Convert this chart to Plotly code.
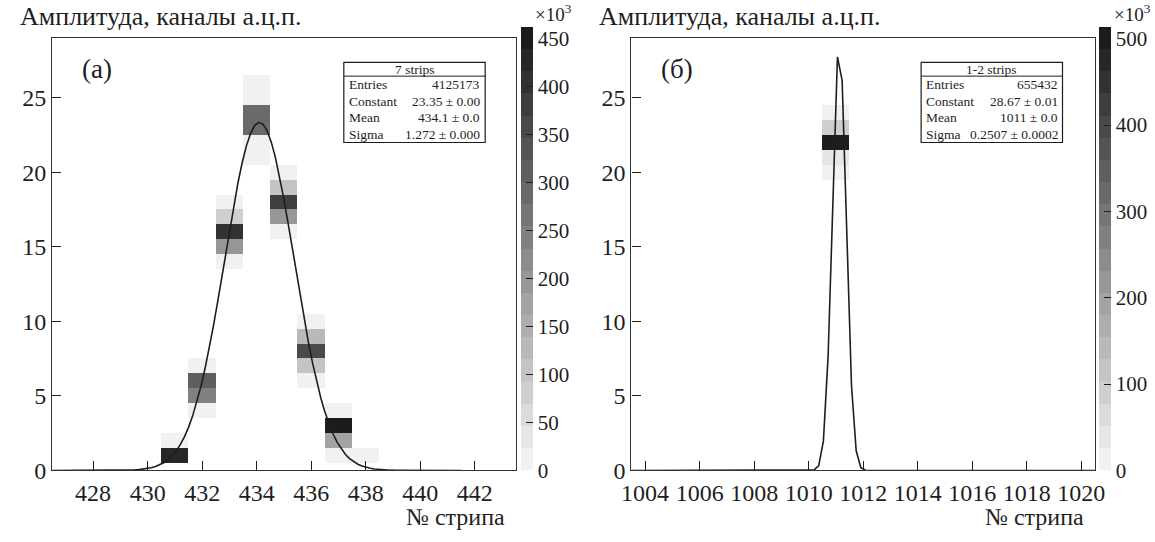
import numpy as np
import plotly.graph_objects as go

W, H = 1155, 542
FONT = "Liberation Serif, Times New Roman, serif"
INK = "#1e1e1e"

# ---------------- panel (а): 7-strip clusters ----------------
strips_a = [431, 431,
            432, 432, 432, 432,
            433, 433, 433, 433, 433,
            434, 434, 434, 434, 434, 434,
            435, 435, 435, 435, 435,
            436, 436, 436, 436, 436,
            437, 437, 437, 437,
            438]
amp_a = [1, 2,
         4, 5, 6, 7,
         14, 15, 16, 17, 18,
         21, 22, 23, 24, 25, 26,
         16, 17, 18, 19, 20,
         6, 7, 8, 9, 10,
         1, 2, 3, 4,
         1]
# counts per cell, thousands
counts_a = [425, 12,
            12, 250, 320, 12,
            12, 190, 405, 80, 12,
            12, 12, 285, 285, 12, 12,
            12, 185, 390, 105, 12,
            12, 115, 355, 120, 12,
            12, 180, 450, 12,
            12]
fit_a = {"Constant": (23.35, 0.00, 2), "Mean": (434.1, 0.0, 1), "Sigma": (1.272, 0.000, 3)}
entries_a = 4125173
title_a = "7 strips"

# ---------------- panel (б): 1-2 strip clusters ----------------
strips_b = [1011, 1011, 1011, 1011, 1011]
amp_b = [20, 21, 22, 23, 24]
counts_b = [10, 40, 505, 85, 15]
fit_b = {"Constant": (28.67, 0.01, 2), "Mean": (1011.12, 0.0, 1), "Sigma": (0.2507, 0.0002, 4)}
entries_b = 655432
title_b = "1-2 strips"

x_range_a = (426.5, 443.5)
x_range_b = (1003.5, 1020.5)
y_range = (0, 29)
zmax_a, zmax_b = 462, 513

# frame geometry in pixels: (left, right)
frame_a = (43, 515)
frame_b = (633, 1105)
frame_top, frame_bot = 39, 482
cbar_a_x, cbar_b_x = 520, 1109


def px(x):
    return x / W


def py(y):
    return 1 - y / H


def grey_scale(n=20, light=241, dark=28):
    scale = []
    for i in range(n):
        g = round(light - i * (light - dark) / (n - 1))
        c = f"rgb({g},{g},{g})"
        scale.append([i / n, c])
        scale.append([(i + 1) / n, c])
    return scale


def grid(strips, amps, counts, xr, yr):
    xs = np.arange(int(np.ceil(xr[0])), int(np.floor(xr[1])) + 1)
    ys = np.arange(yr[0], yr[1] + 1)
    z = np.full((len(ys), len(xs)), np.nan)
    for s, a, c in zip(strips, amps, counts):
        z[a - ys[0], s - xs[0]] = c
    return xs, ys, z


def gauss(pars, lo, hi, n=100):
    c, mu, s = pars["Constant"][0], pars["Mean"][0], pars["Sigma"][0]
    x = np.linspace(lo, hi, n)
    return x, c * np.exp(-0.5 * ((x - mu) / s) ** 2)


fig = go.Figure()
cs = grey_scale()

panels = [
    ("x", "y", strips_a, amp_a, counts_a, x_range_a, zmax_a, cbar_a_x, fit_a, (426.5, 441.5), 50),
    ("x2", "y2", strips_b, amp_b, counts_b, x_range_b, zmax_b, cbar_b_x, fit_b, x_range_b, 100),
]
for xa, ya, st, am, cn, xr, zmax, cbx, fit, frange, dtick in panels:
    xs, ys, z = grid(st, am, cn, xr, y_range)
    fig.add_trace(go.Heatmap(
        x=xs, y=ys, z=z, xaxis=xa, yaxis=ya,
        colorscale=cs, zmin=0, zmax=zmax, hoverongaps=False,
        colorbar=dict(
            x=px(cbx), xanchor="left", xpad=0, ypad=0,
            y=py(frame_bot), yanchor="bottom",
            len=frame_bot - frame_top, lenmode="pixels",
            thickness=12, thicknessmode="pixels", outlinewidth=0,
            ticks="inside", ticklen=7, tickwidth=1.2, tickcolor=INK,
            tickvals=list(range(0, int(zmax) + 1, dtick)),
            tickfont=dict(family=FONT, size=21, color=INK),
        ),
    ))
    fx, fy = gauss(fit, *frange)
    fig.add_trace(go.Scatter(x=fx, y=fy, xaxis=xa, yaxis=ya, mode="lines",
                             line=dict(color=INK, width=1.6), hoverinfo="skip",
                             showlegend=False))

axis_common = dict(showgrid=False, zeroline=False, showline=True, mirror=True,
                   linecolor="#333", linewidth=1.3, ticks="inside", ticklen=9,
                   tickwidth=1.2, tickcolor=INK,
                   tickfont=dict(family=FONT, size=24, color=INK))
fig.update_layout(
    width=W, height=H, margin=dict(l=0, r=0, t=0, b=0),
    paper_bgcolor="white", plot_bgcolor="white", showlegend=False,
    xaxis=dict(domain=[px(frame_a[0]), px(frame_a[1])], range=list(x_range_a),
               tickvals=list(range(428, 443, 2)), anchor="y",
               ticklabelstandoff=1, **axis_common),
    yaxis=dict(domain=[py(frame_bot), py(frame_top)], range=list(y_range),
               tickvals=list(range(0, 26, 5)), anchor="x", **axis_common),
    xaxis2=dict(domain=[px(frame_b[0]), px(frame_b[1])], range=list(x_range_b),
                tickvals=list(range(1004, 1021, 2)), anchor="y2",
                ticklabelstandoff=1, **axis_common),
    yaxis2=dict(domain=[py(frame_bot), py(frame_top)], range=list(y_range),
                tickvals=list(range(0, 26, 5)), anchor="x2", **axis_common),
)


def text(x, y, s, size, xanchor="left", yanchor="middle"):
    fig.add_annotation(x=px(x), y=py(y), xref="paper", yref="paper", text=s,
                       showarrow=False, xanchor=xanchor, yanchor=yanchor,
                       borderpad=0,
                       font=dict(family=FONT, size=size, color=INK))


for (fl, fr), cbx, tag in [(frame_a, cbar_a_x, "(а)"), (frame_b, cbar_b_x, "(б)")]:
    text(fl - 34, 17, "Амплитуда, каналы а.ц.п.", 26)
    text(fr - 10, 544, "№ стрипа", 24, xanchor="right", yanchor="bottom")
    text(cbx + 14, 13, "×10<sup>3</sup>", 19)
    text(fl + 29, 71, tag, 27)


def stats_box(x0, x1, y0, y1, title, entries, fit):
    fig.add_shape(type="rect", xref="paper", yref="paper",
                  x0=px(x0), x1=px(x1), y0=py(y1), y1=py(y0),
                  line=dict(color=INK, width=1.2), fillcolor="white")
    sep = y0 + 14
    fig.add_shape(type="line", xref="paper", yref="paper",
                  x0=px(x0), x1=px(x1), y0=py(sep), y1=py(sep),
                  line=dict(color=INK, width=1))
    text((x0 + x1) / 2, y0 + 7, title, 13.5, xanchor="center")
    rows = [("Entries", str(entries))]
    for name, (v, e, dec) in fit.items():
        rows.append((name, f"{v:.4g} ± {e:.{dec}f}"))
    step = (y1 - sep) / len(rows)
    for i, (lab, val) in enumerate(rows):
        yc = sep + step * (i + 0.5)
        text(x0 + 4, yc, lab, 13.5)
        text(x1 - 4, yc, val, 13.5, xanchor="right")


stats_box(340, 484, 64, 146, title_a, entries_a, fit_a)
stats_box(928, 1072, 64, 146, title_b, entries_b, fit_b)

fig.write_html("out.html")
